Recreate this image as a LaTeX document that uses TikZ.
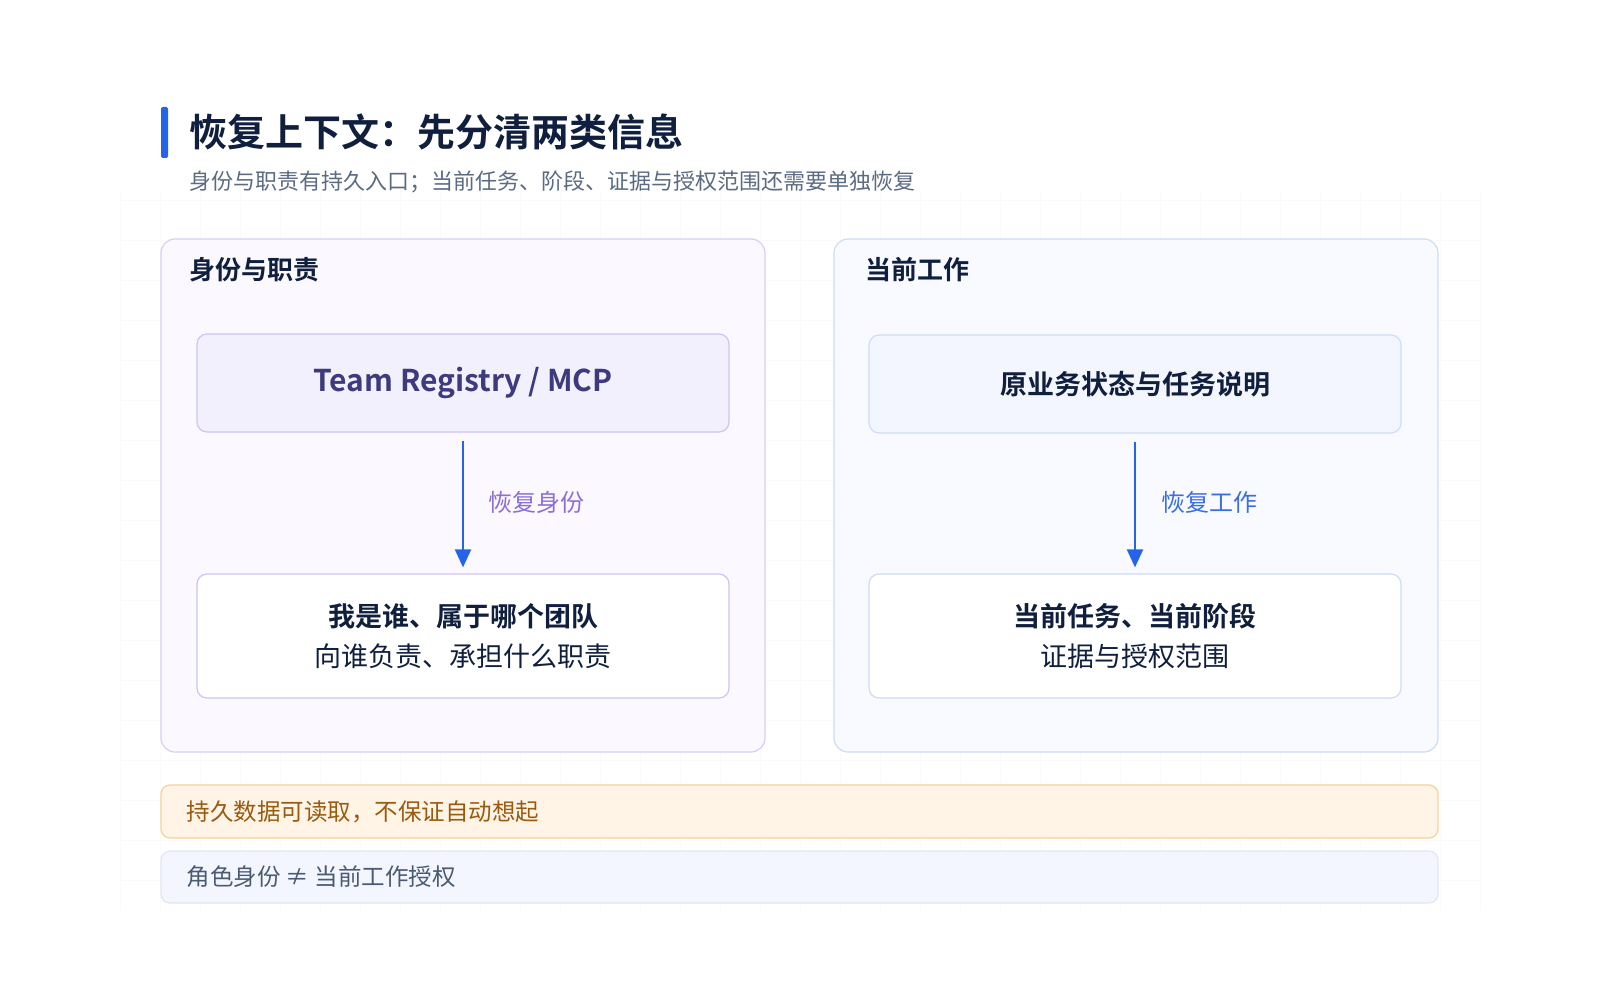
\documentclass[tikz,border=0pt]{standalone}
\usepackage{fontspec}
\setmainfont{Noto Sans CJK SC}
\newfontfamily\cjkb{Noto Sans CJK SC}[BoldFont={* Bold}]
\usetikzlibrary{arrows.meta}
\definecolor{navy}{HTML}{0F1F3D}
\definecolor{accent}{HTML}{2563EB}
\definecolor{subc}{HTML}{5B6B82}
\definecolor{lpfill}{HTML}{FBF8FF}
\definecolor{lpdraw}{HTML}{D9CEF5}
\definecolor{lbfill}{HTML}{F3F0FD}
\definecolor{lbdraw}{HTML}{CFC4F2}
\definecolor{rpfill}{HTML}{F8FAFF}
\definecolor{rpdraw}{HTML}{CFDCF5}
\definecolor{rbfill}{HTML}{F3F6FE}
\definecolor{purptxt}{HTML}{3D3A7E}
\definecolor{lablp}{HTML}{8B6FD6}
\definecolor{lablb}{HTML}{3B6FE0}
\definecolor{orfill}{HTML}{FFF4E5}
\definecolor{ordraw}{HTML}{F3D39A}
\definecolor{ortxt}{HTML}{9A5A10}
\definecolor{blfill}{HTML}{F3F6FE}
\definecolor{bldraw}{HTML}{DFE7F7}
\definecolor{bltxt}{HTML}{4A5A72}
\begin{document}
\begin{tikzpicture}[x=1pt,y=-1pt,
  panel/.style={rounded corners=14pt,line width=1.2pt},
  box/.style={rounded corners=10pt,line width=1.2pt},
  arr/.style={draw=accent,line width=2pt,-{Triangle[length=18pt,width=16pt]}},
  ptitle/.style={anchor=west,font=\cjkb\bfseries\fontsize{26}{30}\selectfont,text=navy},
  lbl/.style={anchor=west,font=\fontsize{24}{28}\selectfont},
  note/.style={anchor=west,font=\fontsize{23.5}{28}\selectfont}]
\useasboundingbox[fill=white] (0,0) rectangle (1600,1000);
\foreach \x in {120,160,...,1480} \draw[black!2,line width=0.5pt] (\x,190) -- (\x,910);
\foreach \y in {200,240,...,900} \draw[black!2,line width=0.5pt] (120,\y) -- (1480,\y);
% title
\fill[accent,rounded corners=2pt] (161,107) rectangle (168,158);
\node[anchor=west,font=\cjkb\bfseries\fontsize{38}{42}\selectfont,text=navy] (title) at (186,132) {恢复上下文：先分清两类信息};
\node[anchor=west,font=\fontsize{22}{26}\selectfont,text=subc] (sub) at (186,182) {身份与职责有持久入口；当前任务、阶段、证据与授权范围还需要单独恢复};
% panels
\draw[panel,fill=lpfill,draw=lpdraw] (161,239) rectangle (765,752);
\draw[panel,fill=rpfill,draw=rpdraw] (834,239) rectangle (1438,752);
\node[ptitle] (lt) at (186,270) {身份与职责};
\node[ptitle] (rt) at (862,270) {当前工作};
% boxes
\node[box,fill=lbfill,draw=lbdraw,minimum width=532pt,minimum height=98pt,font=\cjkb\bfseries\fontsize{30}{34}\selectfont,text=purptxt] (reg) at (463,383) {Team Registry / MCP};
\node[box,fill=white,draw=lbdraw,minimum width=532pt,minimum height=124pt,align=center,text=navy,font=\fontsize{27}{40}\selectfont] (who) at (463,636) {{\cjkb\bfseries 我是谁、属于哪个团队}\\向谁负责、承担什么职责};
\node[box,fill=rbfill,draw=rpdraw,minimum width=532pt,minimum height=98pt,font=\cjkb\bfseries\fontsize{27}{30}\selectfont,text=navy] (orig) at (1135,384) {原业务状态与任务说明};
\node[box,fill=white,draw=rpdraw,minimum width=532pt,minimum height=124pt,align=center,text=navy,font=\fontsize{27}{40}\selectfont] (cur) at (1135,636) {{\cjkb\bfseries 当前任务、当前阶段}\\证据与授权范围};
\draw[arr] ([yshift=-8pt]reg.south) -- ([yshift=6pt]who.north);
\draw[arr] ([yshift=-8pt]orig.south) -- ([yshift=6pt]cur.north);
\node[lbl,text=lablp] (l1) at (485,502) {恢复身份};
\node[lbl,text=lablb] (l2) at (1158,502) {恢复工作};
% notes
\draw[box,rounded corners=9pt,fill=orfill,draw=ordraw] (161,785) rectangle (1438,838);
\node[note,text=ortxt] (n1) at (183,812) {持久数据可读取，不保证自动想起};
\draw[box,rounded corners=9pt,fill=blfill,draw=bldraw] (161,851) rectangle (1438,903);
\node[note,text=bltxt] (n2) at (183,877) {角色身份 ≠ 当前工作授权};
\end{tikzpicture}
\end{document}
